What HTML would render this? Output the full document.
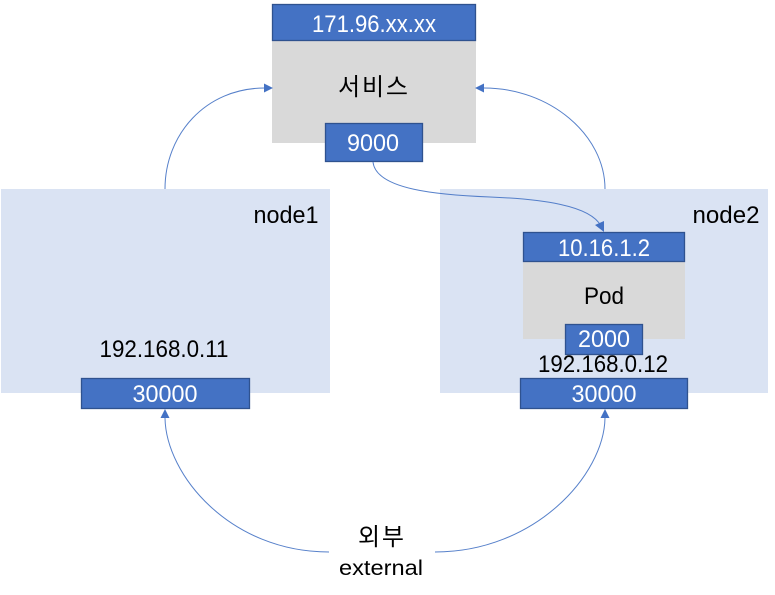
<!DOCTYPE html>
<html><head><meta charset="utf-8"><style>
html,body{margin:0;padding:0;background:#fff}
svg{display:block}
text{font-family:"Liberation Sans","Noto Sans CJK KR",sans-serif;font-size:24px;text-anchor:middle}
.w{fill:#fff}.k{fill:#000}
.b{fill:#4472c4;stroke:#2f528f;stroke-width:1.3}
.c{fill:none;stroke:#4472c4;stroke-width:1;opacity:.9}
.a{fill:#4472c4}
</style></head><body>
<svg width="775" height="595" viewBox="0 0 775 595" xmlns="http://www.w3.org/2000/svg">
<rect x="1" y="189" width="329" height="204" fill="#dae3f3"/>
<rect x="440" y="189" width="328" height="204" fill="#dae3f3"/>
<rect x="272" y="4" width="204" height="139" fill="#d9d9d9"/>
<rect x="523" y="232" width="162" height="107" fill="#d9d9d9"/>
<rect class="b" x="272.500" y="4.500" width="203" height="36"/>
<rect class="b" x="325.500" y="123.500" width="97" height="38"/>
<rect class="b" x="523.500" y="232.500" width="161" height="29"/>
<rect class="b" x="565.500" y="324.500" width="77" height="30"/>
<rect class="b" x="81.500" y="378.500" width="168" height="30"/>
<rect class="b" x="520.500" y="378.500" width="167" height="30"/>
<path class="c" d="M165 189C165 135 205 88 265 88"/>
<polygon class="a" points="273,88 264,83.500 264,92.500"/>
<path class="c" d="M605 189C605 135 550 88 484 88"/>
<polygon class="a" points="475,88 484,83.500 484,92.500"/>
<path class="c" d="M373 162C376 190 440 195 490 197C540 199 590 205 601 226"/>
<polygon class="a" points="604,232 595,225 604,221"/>
<path class="c" d="M165 418C166 475 230 552 329 552"/>
<polygon class="a" points="165,409 160.500,418 169.500,418"/>
<path class="c" d="M605 418C604 475 535 552 435 552"/>
<polygon class="a" points="605,409 600.500,418 609.500,418"/>
<text class="w" x="374" y="32" textLength="124" lengthAdjust="spacingAndGlyphs">171.96.xx.xx</text>
<text class="k" x="373" y="95" textLength="70" lengthAdjust="spacing">서비스</text>
<text class="w" x="373" y="151" textLength="52" lengthAdjust="spacingAndGlyphs">9000</text>
<text class="k" x="286" y="223" textLength="65" lengthAdjust="spacingAndGlyphs">node1</text>
<text class="k" x="726" y="223" textLength="67" lengthAdjust="spacingAndGlyphs">node2</text>
<text class="w" x="604" y="256" textLength="92" lengthAdjust="spacingAndGlyphs">10.16.1.2</text>
<text class="k" x="604" y="304" textLength="40" lengthAdjust="spacingAndGlyphs">Pod</text>
<text class="w" x="604" y="347" textLength="52" lengthAdjust="spacingAndGlyphs">2000</text>
<text class="k" x="164" y="357" textLength="129" lengthAdjust="spacingAndGlyphs">192.168.0.11</text>
<text class="k" x="603" y="372" textLength="130" lengthAdjust="spacingAndGlyphs">192.168.0.12</text>
<text class="w" x="165" y="402" textLength="65" lengthAdjust="spacingAndGlyphs">30000</text>
<text class="w" x="604" y="402" textLength="65" lengthAdjust="spacingAndGlyphs">30000</text>
<text class="k" x="381" y="545" textLength="46" lengthAdjust="spacing">외부</text>
<text class="k" x="381" y="575" style="font-size:21px" textLength="84" lengthAdjust="spacingAndGlyphs">external</text>
</svg>
</body></html>
